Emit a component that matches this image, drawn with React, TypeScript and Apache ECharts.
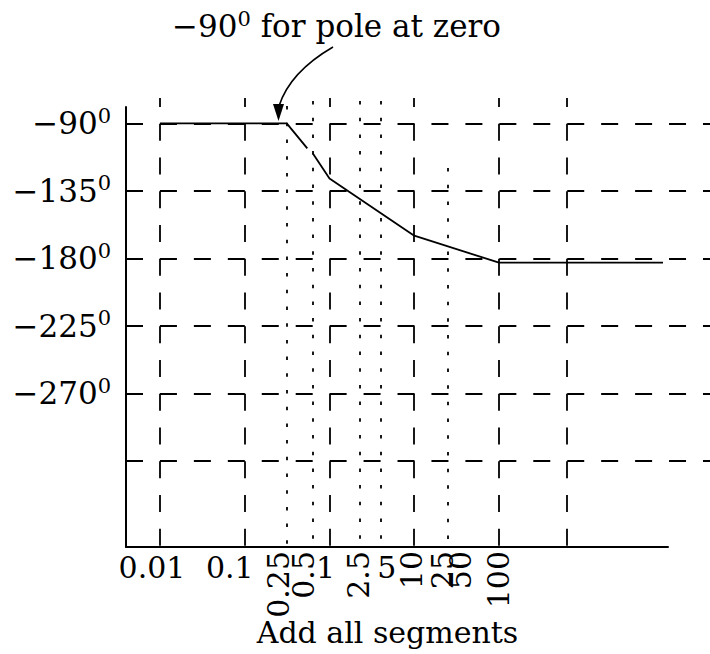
import React, { useEffect, useRef } from "react";
import * as echarts from "echarts";

const FONT = "'DejaVu Serif', 'Liberation Serif', serif";

// ---- data (frequencies in rad/s, phase in degrees) ----
const X_MIN_W = 0.003972; // frequency at the phase axis
const X_MAX_W = 9863; // right end of the frequency axis
const X_GRID_END_W = 30900; // right end of dashed grid
const Y_MIN = -372.5;
const Y_MAX = -79.1;
const Y_GRID_TOP = -73.1;

const curveW = [0.01, 0.313, 0.547, 0.634, 1, 10, 100, 8610];
const curveDeg = [-90, -90, -106.7, -110, -126.7, -164.9, -182.9, -182.9];
const curveBreakAfter = 2;

const gridDeg = [-90, -135, -180, -225, -270, -315];
const gridW = [0.01, 0.1, 1, 10, 100, 634];
const dottedW = [0.315, 0.634, 2.25, 4.02, 25.2];
const dottedTopDeg = [-78.5, -75.1, -75.1, -75.1, -119.8];

const yTickDeg = [-90, -135, -180, -225, -270];
const xUprightTicks = ["0.01", "0.1", "1", "5"];
const xRotatedTicks = ["0.25", "0.5", "2.5", "10", "25", "50", "100"];

const titleText = "for pole at zero";
const xName = "Add all segments";

// ---- styles ----
const uprightShift: Record<string, number> = { "0.01": -8, "0.1": -15, "1": -4, "5": -2 };
const rotatedShift: Record<string, number> = { "0.25": 0, "0.5": 0, "2.5": -5, "10": -3, "25": -5, "50": -13, "100": -1 };

const lg = (v: number) => Math.log10(v);

function buildRich(ticks: string[], shift: Record<string, number>, prefix: string, rotated: boolean) {
  const rich: any = {};
  ticks.forEach((t, i) => {
    const d = shift[t] || 0;
    let padding: number[];
    if (!rotated) padding = d < 0 ? [0, -2 * d, 0, 0] : [0, 0, 0, 2 * d];
    else padding = d < 0 ? [0, 0, -2 * d, 0] : [2 * d, 0, 0, 0];
    rich[prefix + i] = { fontFamily: FONT, fontSize: 30, lineHeight: rotated ? 22 : 36, color: "#000", padding };
  });
  return rich;
}

function buildFormatter(ticks: string[], prefix: string) {
  return (v: number) => {
    const i = ticks.findIndex((t) => Math.abs(lg(+t) - v) < 1e-4);
    return i < 0 ? "" : `{${prefix}${i}|${ticks[i]}}`;
  };
}

function labelAxis(ticks: string[], prefix: string, rotated: boolean, shift: Record<string, number>) {
  return {
    gridIndex: 0,
    type: "value",
    min: lg(X_MIN_W),
    max: lg(X_MAX_W),
    position: "bottom",
    axisLine: { show: false, onZero: false },
    axisTick: { show: false },
    splitLine: { show: false },
    axisLabel: {
      customValues: ticks.map((t) => lg(+t)),
      formatter: buildFormatter(ticks, prefix),
      rich: buildRich(ticks, shift, prefix, rotated),
      rotate: rotated ? 90 : 0,
      margin: rotated ? 4 : 2,
      interval: 0,
      hideOverlap: false,
      showMinLabel: true,
      showMaxLabel: true,
    },
  };
}

export default function App() {
  const ref = useRef<HTMLDivElement>(null);
  useEffect(() => {
    if (!ref.current) return;
    const chart = echarts.init(ref.current, null, { renderer: "svg" });

    const curveData: any[] = [];
    curveW.forEach((w, i) => {
      curveData.push([lg(w), curveDeg[i]]);
      if (i === curveBreakAfter) curveData.push(["-", "-"]);
    });

    const rotA = xRotatedTicks.filter((_, i) => i % 2 === 0);
    const rotB = xRotatedTicks.filter((_, i) => i % 2 === 1);

    const mainX: any = labelAxis(xUprightTicks, "u", false, uprightShift);
    mainX.axisLine = { show: true, onZero: false, lineStyle: { color: "#000", width: 2 } };
    mainX.name = xName;
    mainX.nameLocation = "middle";
    mainX.nameGap = 70;
    mainX.nameTextStyle = { fontFamily: FONT, fontSize: 30, color: "#000", padding: [0, 19, 0, 0] };

    const dashH = [17, 16.94];
    const dashV = [17, 16.75];

    const option: any = {
      animation: false,
      title: {
        text: `{a|−90}{s|0}{a| ${titleText}}`,
        left: 172,
        top: 8,
        padding: 0,
        textStyle: {
          fontWeight: "normal",
          rich: {
            a: { fontFamily: FONT, fontSize: 31, lineHeight: 36, color: "#000", fontWeight: "normal" },
            s: { fontFamily: FONT, fontSize: 21, lineHeight: 18, verticalAlign: "top", color: "#000", fontWeight: "normal" },
          },
        },
      },
      grid: [
        { left: 126, top: 107, width: 542, height: 440 },
        { left: 126, top: 98, width: 584, height: 449 },
      ],
      xAxis: [
        mainX,
        labelAxis(rotA, "a", true, rotatedShift),
        labelAxis(rotB, "b", true, rotatedShift),
        { gridIndex: 1, type: "value", min: lg(X_MIN_W), max: lg(X_GRID_END_W), show: false },
      ],
      yAxis: [
        {
          gridIndex: 0,
          type: "value",
          min: Y_MIN,
          max: Y_MAX,
          axisLine: { show: true, onZero: false, lineStyle: { color: "#000", width: 2 } },
          axisTick: { show: false },
          splitLine: { show: false },
          axisLabel: {
            customValues: yTickDeg,
            formatter: (v: number) => `{a|−${Math.abs(v)}}{s|0}`,
            rich: {
              a: { fontFamily: FONT, fontSize: 31, lineHeight: 36, color: "#000" },
              s: { fontFamily: FONT, fontSize: 21, lineHeight: 24, verticalAlign: "top", color: "#000" },
            },
            margin: 15,
            interval: 0,
            showMinLabel: true,
            showMaxLabel: true,
          },
        },
        { gridIndex: 1, type: "value", min: Y_MIN, max: Y_GRID_TOP, show: false },
      ],
      series: [
        {
          name: "hgrid",
          type: "line",
          xAxisIndex: 3,
          yAxisIndex: 1,
          data: [],
          silent: true,
          markLine: {
            silent: true,
            symbol: ["none", "none"],
            label: { show: false },
            lineStyle: { color: "#000", width: 1.8, type: dashH, dashOffset: 0 },
            data: gridDeg.map((d) => [{ coord: [lg(X_MIN_W), d] }, { coord: [lg(X_GRID_END_W), d] }]),
          },
        },
        {
          name: "vgrid",
          type: "line",
          xAxisIndex: 3,
          yAxisIndex: 1,
          data: [],
          silent: true,
          markLine: {
            silent: true,
            symbol: ["none", "none"],
            label: { show: false },
            lineStyle: { color: "#000", width: 1.8, type: dashV, dashOffset: 8.45 },
            data: gridW.map((w) => [{ coord: [lg(w), Y_GRID_TOP] }, { coord: [lg(w), Y_MIN] }]),
          },
        },
        {
          name: "dotted",
          type: "line",
          xAxisIndex: 3,
          yAxisIndex: 1,
          data: [],
          silent: true,
          markLine: {
            silent: true,
            symbol: ["none", "none"],
            label: { show: false },
            lineStyle: { color: "#000", width: 1.8, type: [3.5, 13.2] },
            data: dottedW.map((w, i) => [{ coord: [lg(w), dottedTopDeg[i]] }, { coord: [lg(w), Y_MIN] }]),
          },
        },
        {
          name: "phase",
          type: "line",
          xAxisIndex: 0,
          yAxisIndex: 0,
          data: curveData,
          symbol: "none",
          silent: true,
          z: 5,
          lineStyle: { color: "#000", width: 1.8 },
        },
      ],
      graphic: [
        {
          type: "bezierCurve",
          shape: { x1: 333, y1: 47, cpx1: 290, cpy1: 72, x2: 279, y2: 106 },
          style: { stroke: "#000", lineWidth: 1.6, fill: "none" },
        },
        {
          type: "polygon",
          shape: { points: [[273, 104], [284, 104], [278.5, 121]] },
          style: { fill: "#000" },
        },
      ],
    };
    chart.setOption(option);
    return () => chart.dispose();
  }, []);
  return <div ref={ref} style={{ position: "absolute", left: 0, top: 0, width: 710, height: 654 }} />;
}
